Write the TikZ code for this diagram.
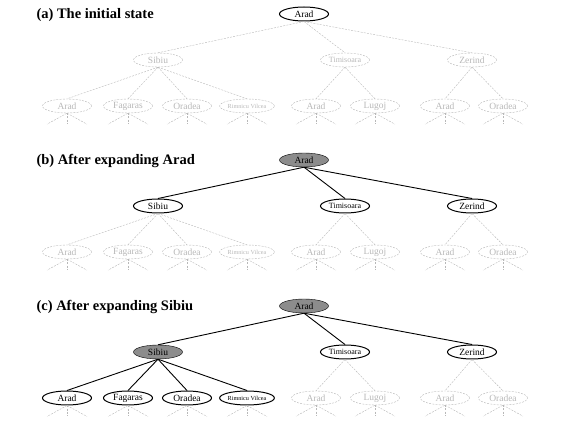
\documentclass[tikz,border=0pt]{standalone}
\usepackage{fontspec}
\setmainfont{Liberation Serif}
\usetikzlibrary{shapes.geometric}

\tikzset{
  city/.style={ellipse, minimum width=49pt, minimum height=14pt, inner sep=0pt,
    font=\fontsize{9.5}{11}\selectfont},
  unseen/.style={city, draw=black!28, text=black!28, dash pattern=on 2pt off 1.2pt},
  frontier/.style={city, draw=black, line width=1pt, fill=white},
  expanded/.style={city, draw=black, fill=black!45},
  faint/.style={draw=black!28, dash pattern=on 2pt off 1.2pt},
  tree/.style={draw=black, line width=0.9pt}
}

\begin{document}
\begin{tikzpicture}[x=1pt,y=-1pt]
    \useasboundingbox (0,0) rectangle (563,422);
    \foreach \p/\dy/\lbl/\rootst/\sibst/\restst/\kidst/\rootedge/\sibedge in {
        a/0/(a) The initial state/frontier/unseen/unseen/unseen/faint/faint,
        b/146/(b) After expanding Arad/expanded/frontier/frontier/unseen/tree/faint,
        c/292/(c) After expanding Sibiu/expanded/expanded/frontier/frontier/tree/tree}
    {
        \begin{scope}[shift={(0,\dy)}]
            \node[anchor=west, font=\bfseries\fontsize{14.5}{16}\selectfont] (\p lbl) at (33,15) {\lbl};
            % top two levels
            \node[\rootst] (\p A) at (304,14) {Arad};
            \node[\sibst] (\p S) at (158,60) {Sibiu};
            \node[\restst, font=\fontsize{8}{9}\selectfont] (\p T) at (345,60) {Timisoara};
            \node[\restst] (\p Z) at (472,60) {Zerind};
            % third level
            \foreach \n/\x/\name in {SA/67/Arad, SF/128/Fagaras, SO/187/Oradea}
                \node[\kidst] (\p\n) at (\x,106) {\name};
            \node[\kidst, font=\fontsize{6.2}{7}\selectfont] (\p SR) at (247,106) {Rimnicu Vilcea};
            \foreach \n/\x/\name in {TA/316/Arad, TL/375/Lugoj, ZA/445/Arad, ZO/503/Oradea}
                \node[unseen] (\p\n) at (\x,106) {\name};
            % connectors
            \foreach \c in {S,T,Z}
                \draw[\rootedge] (\p A.south) -- (\p\c.north);
            \foreach \c in {SA,SF,SO,SR}
                \draw[\sibedge] (\p S.south) -- (\p\c.north);
            \foreach \c in {TA,TL}
                \draw[faint] (\p T.south) -- (\p\c.north);
            \foreach \c in {ZA,ZO}
                \draw[faint] (\p Z.south) -- (\p\c.north);
            % stubs below the leaves
            \foreach \c in {SA,SF,SO,SR,TA,TL,ZA,ZO}
            {
                \foreach \dx in {-20,0,20}
                    \draw[faint] (\p\c.south) -- ++(\dx,11);
            }
        \end{scope}
    }
\end{tikzpicture}
\end{document}
